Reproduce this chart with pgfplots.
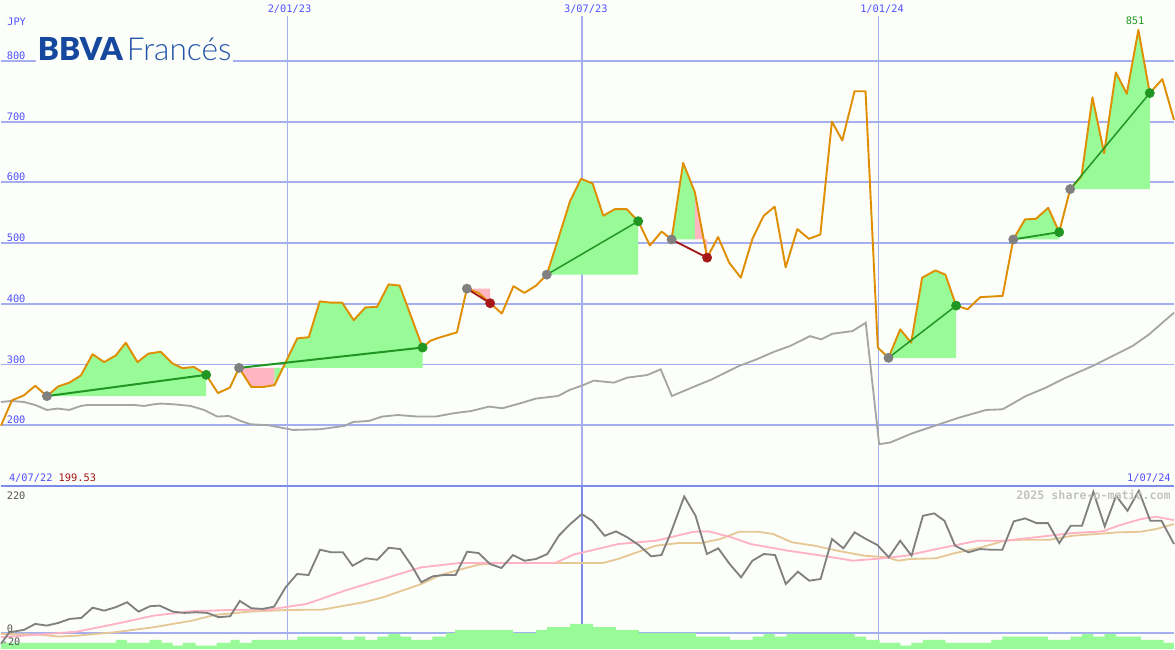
\documentclass[border=0pt]{standalone}
\usepackage{pgfplots}
\pgfplotsset{compat=1.18}
\usepackage{fontspec}
\newfontfamily\mono{DejaVu Sans Mono}
\newfontfamily\latolight{Lato Light}
\newfontfamily\latoblack{Lato Black}
\definecolor{bgc}{RGB}{252,254,250}
\definecolor{gridblue}{RGB}{165,175,240}
\definecolor{sepblue}{RGB}{125,140,232}
\definecolor{lblblue}{RGB}{80,80,255}
\definecolor{pricec}{RGB}{222,142,0}
\definecolor{magray}{RGB}{165,165,165}
\definecolor{oscgray}{RGB}{128,128,128}
\definecolor{mapink}{RGB}{255,178,195}
\definecolor{matan}{RGB}{230,200,150}
\definecolor{winfill}{RGB}{152,251,152}
\definecolor{lossfill}{RGB}{255,182,193}
\definecolor{wingreen}{RGB}{34,150,34}
\definecolor{lossred}{RGB}{165,25,25}
\definecolor{entrygray}{RGB}{128,128,128}
\definecolor{bbvablue}{RGB}{22,72,158}
\definecolor{bbvalight}{RGB}{35,85,168}
\definecolor{wmgray}{RGB}{195,195,195}
\definecolor{tickgray}{RGB}{85,85,85}
\definecolor{valred}{RGB}{160,20,20}
\newcommand\lbl{\mono\fontsize{6.2}{7}\selectfont}
\pgfplotsset{
  chartbase/.style={
    scale only axis, width=705pt, xmin=0, xmax=1175,
    axis line style={draw=none}, xtick=\empty, ytick=\empty,
    clip=false,
  }
}
\begin{document}
\begin{tikzpicture}
% ---------------- price panel ----------------
\begin{axis}[chartbase, height=292.2pt, ymin=99.7, ymax=900.3, at={(0pt,97.8pt)}, anchor=south west]
\fill[bgc] (rel axis cs:0,0) rectangle (rel axis cs:1,1);
\pgfplotsinvokeforeach{200,300,400,500,600,700,800}{
  \draw[gridblue, line width=1.1pt] (axis cs:0,#1) -- (axis cs:1175,#1);
  \node[anchor=base west, inner sep=0pt, text=lblblue, font=\lbl, yshift=0.9pt] at (axis cs:5.5,#1) {#1};
}
\draw[gridblue, line width=0.6pt] (axis cs:287,99.7) -- (axis cs:287,874);
\draw[gridblue, line width=1.2pt] (axis cs:582,99.7) -- (axis cs:582,874);
\draw[gridblue, line width=0.6pt] (axis cs:879,99.7) -- (axis cs:879,874);
\node[anchor=base, inner sep=0pt, text=lblblue, font=\lbl] at (axis cs:289,879.4) {2/01/23};
\node[anchor=base, inner sep=0pt, text=lblblue, font=\lbl] at (axis cs:585.8,879.4) {3/07/23};
\node[anchor=base, inner sep=0pt, text=lblblue, font=\lbl] at (axis cs:882.5,879.4) {1/01/24};
\node[anchor=base west, inner sep=0pt, text=lblblue, font=\lbl] at (axis cs:6,859) {JPY};
\node[anchor=base west, inner sep=0pt, font=\lbl] at (axis cs:7.7,107.4) {\textcolor{lblblue}{4/07/22} \textcolor{valred}{199.53}};
\node[anchor=base east, inner sep=0pt, text=lblblue, font=\lbl] at (axis cs:1172,107.4) {1/07/24};
\node[anchor=base west, inner xsep=1pt, inner ysep=1.3pt, fill=bgc] at (axis cs:35,800)
  {\fontsize{19}{19}\selectfont\textcolor{bbvablue}{\latoblack BBVA}\hspace{2.5pt}\textcolor{bbvalight}{\latolight Francés}};

% trade fills
\addplot[fill=winfill, draw=none] coordinates {(46,248) (57.3,264) (68.3,270) (80,282) (91.7,317) (103.3,304) (115,315) (125,336) (136.7,304) (147.7,318) (160,321) (171.7,302) (181.7,294) (193.3,296) (205.5,283) (205.5,248)} -- cycle;
\addplot[fill=lossfill, draw=none] coordinates {(238.5,294.5) (250.7,263) (262.3,263) (274,266) (274,294.5)} -- cycle;
\addplot[fill=winfill, draw=none] coordinates {(274,294.5) (274,266) (282.4,294.5) (296.7,343) (308.3,345) (319.3,404) (330,402) (341.7,402) (353.3,373) (365,394) (376.7,395) (388.3,432) (399.3,430) (422.3,328) (422.3,294.5)} -- cycle;
\addplot[fill=lossfill, draw=none] coordinates {(466.7,425) (478.3,418) (490,401) (490,425)} -- cycle;
\addplot[fill=winfill, draw=none] coordinates {(546.7,448) (558,506) (570,569) (581,606) (592.7,598) (603.3,545) (615,556) (626.7,556) (638.3,536) (638.3,448)} -- cycle;
\addplot[fill=winfill, draw=none] coordinates {(671.7,506) (683.3,632) (695,584) (695,506)} -- cycle;
\addplot[fill=lossfill, draw=none] coordinates {(695,506) (695,584) (703.9,506) (707.3,476) (707.3,506)} -- cycle;
\addplot[fill=winfill, draw=none] coordinates {(889,311) (900.7,358) (911.7,336) (922.7,443) (936,455) (946,448) (956.7,397) (956.7,311)} -- cycle;
\addplot[fill=winfill, draw=none] coordinates {(1014,506) (1025.7,539) (1036.7,540) (1049,558) (1060,518) (1060,506)} -- cycle;
\addplot[fill=winfill, draw=none] coordinates {(1071,589) (1082.3,610) (1093.3,740) (1105,648) (1116.7,781) (1127.7,746) (1139.3,851) (1150.7,747) (1150.7,589)} -- cycle;

% moving average
\addplot[magray, line width=1.1pt] coordinates {(0,238.3) (10,240) (23.3,238.3) (35,232.9) (46,225.2) (56.7,227.5) (68.3,225.2) (80,231.8) (86.7,233.4) (110,233.4) (133.3,233.4) (143.3,231.8) (153.3,234.5) (160,235.7) (173.3,234.5) (190,231.8) (203.3,225.2) (216.7,214.3) (228.3,215.3) (240,207.1) (250,201.7) (268,200) (292.5,192.3) (319.3,193.4) (343.8,198.9) (352.8,205.4) (368.4,207.1) (381.8,214.3) (397.4,216.9) (417.5,214.3) (435.4,214.3) (453.2,219.7) (471,223.5) (488.9,230.7) (502.3,228) (520.2,236.2) (535.8,243.9) (558.1,248.2) (569.3,258) (582.7,265.8) (593.8,273.5) (613.9,270.2) (627.3,278.4) (647.4,282.7) (660.8,292.1) (672,248.2) (694.3,263.6) (712.1,275.6) (739,297.5) (756.8,308.5) (774.6,321.2) (790.3,330.4) (810.4,346.8) (821.5,341.4) (832.7,350.7) (852.8,355) (866.2,368.8) (879.6,168.8) (890.7,171.6) (913,186.9) (930,196.2) (960,212.7) (986.7,225.2) (1003.3,226.3) (1026.7,248.2) (1046.7,262) (1066.7,278.4) (1093.3,297.5) (1113.3,313.9) (1133.3,330.4) (1150,349.6) (1163.3,368.8) (1175,385.3)};

% price
\addplot[pricec, line width=1.15pt, line join=round] coordinates {(0,199.5) (11,241) (22.7,249) (34.3,265) (46,248) (57.3,264) (68.3,270) (80,282) (91.7,317) (103.3,304) (115,315) (125,336) (136.7,304) (147.7,318) (160,321) (171.7,302) (181.7,294) (193.3,296) (205.5,283) (217.3,253) (229.3,262) (238.5,294.5) (250.7,263) (262.3,263) (274,266) (296.7,343) (308.3,345) (319.3,404) (330,402) (341.7,402) (353.3,373) (365,394) (376.7,395) (388.3,432) (399.3,430) (422.3,328) (430,339) (438.3,344) (456.7,353) (466.7,425) (478.3,418) (490,401) (501.7,384) (513.3,429) (524.3,418) (536,430) (546.7,448) (558,506) (570,569) (581,606) (592.7,598) (603.3,545) (615,556) (626.7,556) (638.3,536) (650,496) (661.7,519) (671.7,506) (683.3,632) (695,584) (707.3,476) (718.3,510) (729.3,468) (741,443) (752.7,507) (764,545) (775,560) (786,460) (797.7,523) (809.3,507) (820.7,514) (832.3,700) (842.7,669) (855,750) (866,750) (878.3,328) (889,311) (900.7,358) (911.7,336) (922.7,443) (936,455) (946,448) (956.7,397) (968.3,391) (981,411) (1003.3,413) (1014,506) (1025.7,539) (1036.7,540) (1049,558) (1060,518) (1071,589) (1082.3,610) (1093.3,740) (1105,648) (1116.7,781) (1127.7,746) (1139.3,851) (1150.7,747) (1163.3,770) (1175,703)};

% trade lines
\addplot[wingreen, line width=1.2pt] coordinates {(46,248) (205.5,283)};
\addplot[wingreen, line width=1.2pt] coordinates {(238.5,294.5) (422.3,328)};
\addplot[lossred, line width=1.1pt] coordinates {(466.7,425) (490,401)};
\addplot[wingreen, line width=0.9pt] coordinates {(546.7,448) (638.3,536)};
\addplot[lossred, line width=1.1pt] coordinates {(671.7,506) (707.3,476)};
\addplot[wingreen, line width=0.9pt] coordinates {(889,311) (956.7,397)};
\addplot[wingreen, line width=1.1pt] coordinates {(1014,506) (1060,518)};
\addplot[wingreen, line width=0.9pt] coordinates {(1071,589) (1150.7,747)};

% entry / exit dots
\addplot[only marks, mark=*, mark size=2.75pt, entrygray, mark options={draw=entrygray, fill=entrygray}] coordinates {(46,248) (238.5,294.5) (466.7,425) (546.7,448) (671.7,506) (889,311) (1014,506) (1071,589)};
\addplot[only marks, mark=*, mark size=2.75pt, wingreen, mark options={draw=wingreen, fill=wingreen}] coordinates {(205.5,283) (422.3,328) (638.3,536) (956.7,397) (1060,518) (1150.7,747)};
\addplot[only marks, mark=*, mark size=2.75pt, lossred, mark options={draw=lossred, fill=lossred}] coordinates {(490,401) (707.3,476)};

\node[anchor=base, inner sep=0pt, text=wingreen, font=\lbl] at (axis cs:1136,859.2) {851};
\end{axis}

% ---------------- indicator panel ----------------
\begin{axis}[chartbase, height=97.8pt, ymin=-26.5, ymax=243.1, at={(0pt,0pt)}, anchor=south west]
\fill[bgc] (rel axis cs:0,0) rectangle (rel axis cs:1,1);
\draw[gridblue, line width=0.6pt] (axis cs:287,-26.5) -- (axis cs:287,243.1);
\draw[sepblue, line width=1.2pt] (axis cs:582,-26.5) -- (axis cs:582,243.1);
\draw[gridblue, line width=0.6pt] (axis cs:879,-26.5) -- (axis cs:879,243.1);
\draw[gridblue, line width=1.1pt] (axis cs:0,0) -- (axis cs:1175,0);

% volume-like histogram
\addplot[const plot, fill=winfill, draw=none] coordinates {(0,-26.5) (0,-16.5) (115,-11.6) (126,-16.5) (149,-11.6) (161,-16.5) (172,-21) (182,-16.5) (195,-21) (216,-16.5) (230,-11.6) (239,-16.5) (251,-11.6) (297,-6.1) (342,-11.6) (354,-6.1) (365,-11.6) (377,-6.1) (388,-1.7) (400,-6.1) (411,-11.6) (432,-6.1) (446,-0.5) (455,5) (513,-0.5) (536,5) (547,9.4) (570,14.9) (593,9.4) (616,5) (639,-0.5) (696,-6.1) (730,-11.6) (753,-6.1) (764,-1.7) (775,-6.1) (787,-1.7) (855,-6.1) (866.5,-11.6) (880,-16.5) (901,-21) (912,-16.5) (923.5,-11.6) (946,-16.5) (992,-11.6) (1003,-6.1) (1049,-11.6) (1071.5,-6.1) (1083,-1.7) (1094,-6.1) (1105.6,-1.7) (1117,-6.1) (1141.7,-11.6) (1164.5,-16.5) (1175,-16.5) (1175,-26.5)} -- cycle;

\addplot[matan, line width=1.1pt] coordinates {(0,-1.7) (38.3,-2.8) (57.4,-6.1) (76.5,-4.5) (114.8,1.2) (153,9.4) (191.3,20.3) (214.3,29.8) (248.8,35.2) (287,38) (321.5,38.5) (344.4,45.2) (363.6,50.8) (382.7,59) (401.8,70) (421,81) (440.1,95.9) (459.2,104.7) (478.4,113) (497.5,115.8) (535.8,115.8) (574,115.8) (602.8,115.8) (618,122.4) (637,133.5) (655.9,144.4) (678.7,148.9) (701.4,148.9) (720.4,155.5) (739.4,167.6) (758.4,167.6) (773.5,163.7) (792.5,150) (815.3,144.4) (838.1,136.1) (864.6,127.9) (887.4,125.2) (898.8,119.6) (910.2,122.4) (936.7,123.6) (955.7,132.3) (982.3,141.8) (1005,152.7) (1024,154.4) (1050.6,154.4) (1073.4,161) (1096.2,163.7) (1118.9,166.6) (1141.7,167.6) (1156.9,172) (1175,180.3)};

\addplot[mapink, line width=1.1pt] coordinates {(0,-7.1) (38.3,-2.8) (76.5,2.2) (114.8,14.9) (153,28.6) (191.3,35.9) (229.6,38) (267.9,38.5) (306.2,48) (344.4,70) (382.7,89.3) (421,108.7) (459.2,115.8) (497.5,115.8) (535.8,115.8) (554.9,115.8) (574,130) (600,140) (618,147.2) (655.9,152.7) (693.9,167.6) (709,168.2) (731.8,158.3) (750.8,147.2) (788.7,136.1) (826.7,126.9) (853.2,119.6) (883.6,123.6) (906.4,127.9) (940.5,140.1) (978.5,152.7) (1005,152.7) (1035.4,158.3) (1073.4,165.4) (1103.7,168.2) (1118.9,177.5) (1141.7,188.6) (1156.9,192.4) (1175,186.8)};

\addplot[oscgray, line width=1.1pt] coordinates {(0,-18) (8.4,1) (23,5) (34.4,14.9) (45.9,12.1) (57.4,16.5) (68.9,23.2) (80.4,24.8) (91.8,41.8) (103.3,36.9) (114.8,42.5) (126.3,50.8) (137.8,35.2) (149.3,44.2) (158.8,45.2) (172.2,35.2) (183.7,33.1) (195.2,34.2) (206.7,33.1) (218.1,26) (229.6,27.6) (239.2,52.9) (250.7,40.9) (262.2,39.7) (273.6,43.5) (285.1,75.6) (296.6,97.6) (308.1,95.9) (319.6,137.8) (331,133.5) (342.5,133.5) (352.1,111.3) (365.5,123.6) (377,121.2) (388.4,141.1) (399.9,138.9) (411.4,111.3) (421,83.9) (432.5,93.8) (443.9,95.9) (455.4,95.9) (466.9,134.5) (478.4,132.3) (489.9,114.1) (501.3,107.5) (512.8,129) (524.3,119.6) (535.8,122.4) (547.3,130.7) (558.7,160.9) (570.2,180.3) (581.8,196.8) (592.3,185.7) (604.7,160.9) (616.1,168.2) (627.4,158.3) (638.8,145.6) (651.3,126.9) (661.6,129) (671.1,166.6) (684.4,226.1) (695.7,194) (707.1,130.7) (718.5,140.1) (729.9,114.1) (741.3,92.1) (752.7,119.6) (764.1,130.7) (775.4,129) (786.1,81) (798.2,101.4) (809.6,86.5) (821,89.3) (832.4,155.5) (843.8,140.1) (855.1,166.6) (866.5,155.5) (877.9,145.6) (889.3,125.2) (900.7,152.7) (912.1,127.9) (923.5,194) (934.8,198) (945.1,185.7) (955.7,144.4) (969,133.5) (980.4,138.9) (991.8,137.8) (1003.1,137.8) (1014.5,184.8) (1025.9,189.7) (1037.3,181.9) (1048.7,181.9) (1060.1,148.9) (1071.5,177.5) (1082.8,177.5) (1094.2,233.7) (1105.6,176.5) (1117,227.1) (1128.4,202.3) (1139.8,235.4) (1151.2,185.7) (1162.5,185.7) (1175,147.2)};

\draw[sepblue, line width=1.2pt] (axis cs:0,243.1) -- (axis cs:1175,243.1);
\node[anchor=base west, inner sep=0pt, text=tickgray, font=\lbl] at (axis cs:5.5,221.6) {220};
\node[anchor=base west, inner sep=0pt, text=tickgray, font=\lbl] at (axis cs:5.5,1.1) {0};
\node[anchor=base west, inner sep=0pt, text=tickgray, font=\lbl] at (axis cs:0.5,-21) {-20};
\node[anchor=base east, inner sep=0pt, text=wmgray, font={\mono\bfseries\fontsize{7}{8}\selectfont}] at (axis cs:1172,221.6) {2025 share-o-matic.com};
\end{axis}
\end{tikzpicture}
\end{document}
